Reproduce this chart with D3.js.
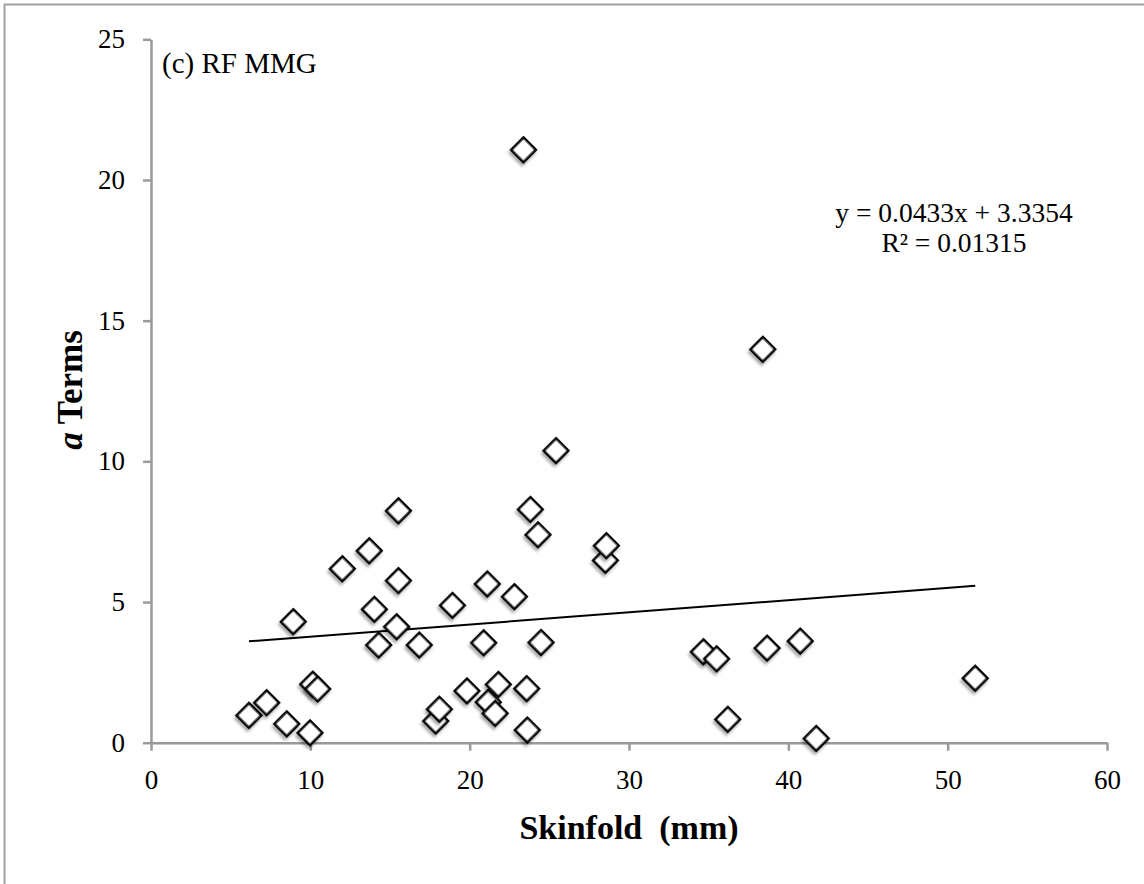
<!DOCTYPE html>
<html>
<head>
<meta charset="utf-8">
<script src="https://cdn.jsdelivr.net/npm/d3@7"></script>
<style>
  body { margin: 0; background: #fff; }
  svg { display: block; }
  .axis path, .axis line { stroke: #9a9a9a; stroke-width: 2.5; }
  .axis text { font-family: "Liberation Serif", serif; font-size: 27px; fill: #000; }
</style>
</head>
<body>
<svg id="chart" width="1144" height="884"></svg>
<script>
// skinfold (mm)
var skinfold = [6.15, 7.26, 8.52, 8.93, 9.98, 10.15, 10.46, 12.01, 13.70, 14.02,
    14.29, 15.42, 15.53, 15.53, 16.84, 17.87, 18.10, 18.92, 19.83, 20.88,
    21.11, 21.17, 21.60, 21.80, 22.81, 23.38, 23.58, 23.62, 23.81, 24.29,
    24.48, 25.42, 28.52, 28.58, 34.67, 35.50, 36.20, 38.40, 38.67, 40.75,
    41.75, 51.73]
// a terms
var aTerms = [0.97, 1.42, 0.67, 4.30, 0.35, 2.08, 1.91, 6.18, 6.82, 4.74,
    3.47, 4.12, 5.76, 8.24, 3.47, 0.77, 1.19, 4.88, 1.84, 3.55,
    5.64, 1.44, 1.04, 2.07, 5.19, 21.07, 1.92, 0.45, 8.29, 7.39,
    3.56, 10.38, 6.48, 7.00, 3.23, 2.98, 0.83, 13.98, 3.36, 3.61,
    0.15, 2.29]
var xTicks = [0, 10, 20, 30, 40, 50, 60]
var yTicks = [0, 5, 10, 15, 20, 25]
var slope = 0.0433,
    intercept = 3.3354
var eqLines = ["y = 0.0433x + 3.3354", "R\u00B2 = 0.01315"]

var svg = d3.select("#chart"),
    margin = { top: 39.3, left: 151, right: 37, bottom: 141.3 },
    width = +svg.attr("width") - margin.left - margin.right,
    height = +svg.attr("height") - margin.top - margin.bottom

// outer frame (top and left edges only are visible)
svg.append("path")
    .attr("d", "M4.5,884 V4.5 H1144")
    .attr("fill", "none")
    .attr("stroke", "#a0a0a0")
    .attr("stroke-width", 2)

var defs = svg.append("defs")
var shadow = defs.append("filter").attr("id", "shadow")
    .attr("x", "-50%").attr("y", "-50%").attr("width", "200%").attr("height", "200%")
shadow.append("feDropShadow")
    .attr("dx", 1).attr("dy", 3)
    .attr("stdDeviation", 1.8)
    .attr("flood-color", "#000")
    .attr("flood-opacity", 0.35)

var x = d3.scaleLinear().domain([0, 60]).range([0, width])
var y = d3.scaleLinear().domain([0, 25]).range([height, 0])

var g = svg.append("g")
    .attr("transform", "translate(" + margin.left + "," + margin.top + ")")

g.append("g")
    .attr("class", "axis")
    .attr("transform", "translate(0," + height + ")")
    .call(d3.axisBottom(x).tickValues(xTicks).tickSize(8).tickSizeOuter(0).tickPadding(19))

g.append("g")
    .attr("class", "axis")
    .call(d3.axisLeft(y).tickValues(yTicks).tickSize(8).tickSizeOuter(0).tickPadding(18))

// trend line
var xr = d3.extent(skinfold)
g.append("line")
    .attr("x1", x(xr[0])).attr("y1", y(slope * xr[0] + intercept))
    .attr("x2", x(xr[1])).attr("y2", y(slope * xr[1] + intercept))
    .attr("stroke", "#000")
    .attr("stroke-width", 2)

// points
var diamond = d3.symbol().type(d3.symbolSquare).size(300)
g.selectAll(".pt")
    .data(skinfold)
    .enter().append("path")
    .attr("class", "pt")
    .attr("d", diamond)
    .attr("transform", function (d, i) {
        return "translate(" + x(d) + "," + y(aTerms[i]) + ") rotate(45)"
    })
    .attr("fill", "#fff")
    .attr("stroke", "#000")
    .attr("stroke-width", 2.5)
    .attr("filter", "url(#shadow)")

// panel title
svg.append("text")
    .attr("x", 162)
    .attr("y", 73)
    .attr("font-family", "Liberation Serif, serif")
    .attr("font-size", 29)
    .text("(c) RF MMG")

// equation
svg.selectAll(".eq")
    .data(eqLines)
    .enter().append("text")
    .attr("class", "eq")
    .attr("x", 954)
    .attr("y", function (d, i) { return 222 + i * 30 })
    .attr("text-anchor", "middle")
    .attr("font-family", "Liberation Serif, serif")
    .attr("font-size", 27.5)
    .text(function (d) { return d })

// axis titles
svg.append("text")
    .attr("x", margin.left + width / 2)
    .attr("y", 839)
    .attr("text-anchor", "middle")
    .attr("font-family", "Liberation Serif, serif")
    .attr("font-weight", "bold")
    .attr("font-size", 34)
    .attr("xml:space", "preserve")
    .text("Skinfold  (mm)")

var yl = svg.append("text")
    .attr("transform", "translate(82,390) rotate(-90)")
    .attr("text-anchor", "middle")
    .attr("font-family", "Liberation Serif, serif")
    .attr("font-weight", "bold")
    .attr("font-size", 35)
yl.append("tspan").attr("font-style", "italic").text("a")
yl.append("tspan").text(" Terms")
</script>
</body>
</html>
